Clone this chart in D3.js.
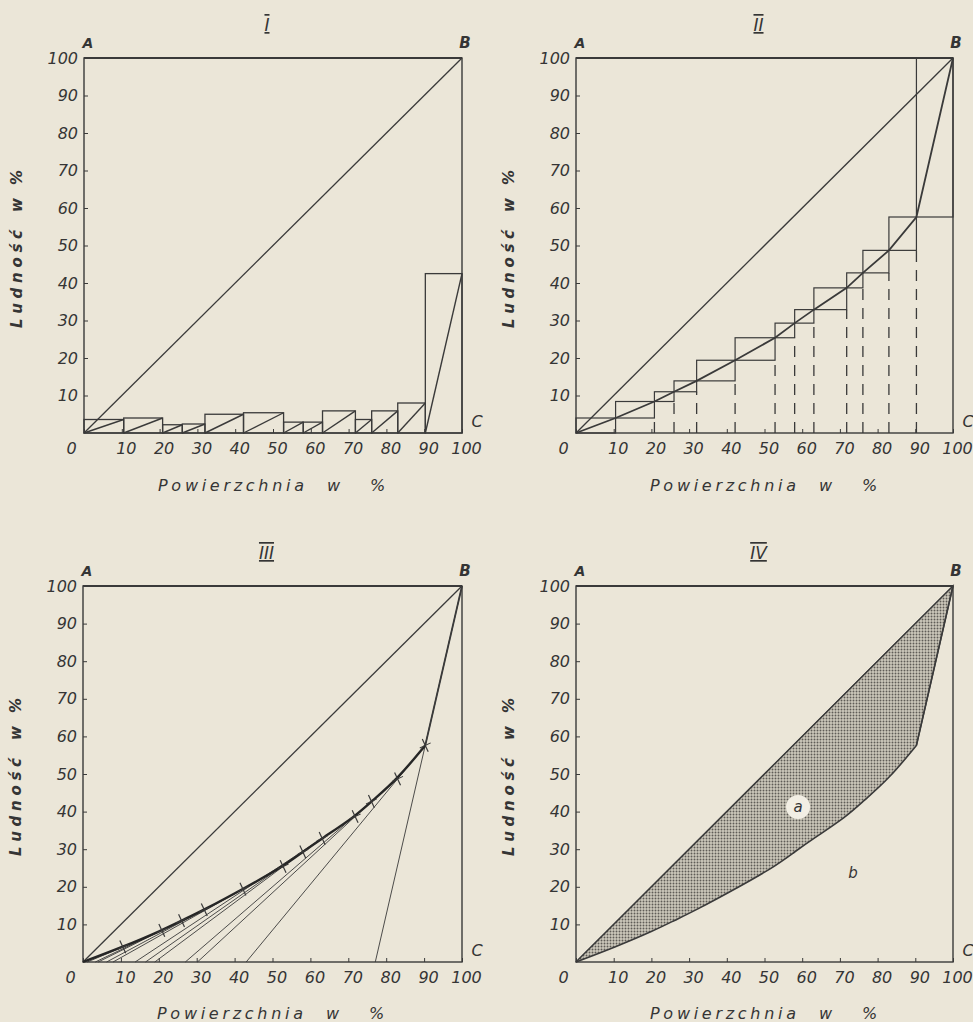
<!DOCTYPE html>
<html>
<head>
<meta charset="utf-8">
<script src="https://cdn.jsdelivr.net/npm/d3@7"></script>
<style>
  body { margin: 0; background: #ebe6d8; }
  svg { display: block; }
  text { font-family: "DejaVu Sans", sans-serif; font-style: italic; fill: #353535; }
</style>
</head>
<body>
<svg id="chart"></svg>
<script>
// --- data ---
const xTicks = [0, 10, 20, 30, 40, 50, 60, 70, 80, 90, 100];
const yTicks = [10, 20, 30, 40, 50, 60, 70, 80, 90, 100];
// cumulative share of area (%) at the class limits
const areaBreaks = [0, 10.5, 20.8, 26, 32, 42.2, 52.8, 58, 63.1, 71.8, 76.1, 83, 90.3, 100];
// population share of each class (%), panel I bar heights
const popShares = [3.6, 4.0, 2.2, 2.4, 5.0, 5.4, 2.9, 2.9, 5.9, 3.6, 5.9, 8.0, 42.5];
// cumulative population (%), panels II-IV
const popCumulative = [0, 4, 8.4, 11, 13.9, 19.4, 25.4, 29.3, 32.9, 38.7, 42.7, 48.7, 57.6, 100];
const panelTitles = ["I", "II", "III", "IV"];
const cornerLabels = ["A", "B", "C"];
const xLabelParts = ["Powierzchnia", "w", "%"];
const yLabelParts = ["Ludność", "w", "%"];
const regionLabels = [{ t: "a", x: 58.9, y: 41.2 }, { t: "b", x: 73.5, y: 23.7 }];

const width = 973, height = 1022;
const ink = "#3a3a3a";

const svg = d3.select("#chart").attr("width", width).attr("height", height);

const defs = svg.append("defs");
const pat = defs.append("pattern").attr("id", "dots")
  .attr("width", 3).attr("height", 3).attr("patternUnits", "userSpaceOnUse");
pat.append("rect").attr("width", 3).attr("height", 3).attr("fill", "#cdc8bb");
pat.append("circle").attr("cx", 1.5).attr("cy", 1.5).attr("r", 0.95).attr("fill", "#5f5c56");

const panels = [
  { left: 84, right: 462, top: 58, bottom: 433 },
  { left: 576, right: 953, top: 58, bottom: 433 },
  { left: 83, right: 462, top: 586, bottom: 962 },
  { left: 576, right: 953, top: 586, bottom: 962 }
];

// hand-smoothed look: B-spline through the cumulative points
const smoothCurve = d3.curveBasis;

function basePanel(p, i) {
  const g = svg.append("g");
  const x = d3.scaleLinear().domain([0, 100]).range([p.left, p.right]);
  const y = d3.scaleLinear().domain([0, 100]).range([p.bottom, p.top]);

  // box
  g.append("rect")
    .attr("x", p.left).attr("y", p.top)
    .attr("width", p.right - p.left).attr("height", p.bottom - p.top)
    .attr("fill", "none").attr("stroke", ink).attr("stroke-width", 1.4);
  g.append("line")
    .attr("x1", p.left).attr("x2", p.right).attr("y1", p.top).attr("y2", p.top)
    .attr("stroke", ink).attr("stroke-width", 2);

  const yAxis = d3.axisLeft(y).tickValues(yTicks).tickSize(-4).tickPadding(6);
  const xAxis = d3.axisBottom(x).tickValues(xTicks).tickSize(-4).tickPadding(10);

  const yG = g.append("g").attr("transform", `translate(${p.left},0)`).call(yAxis);
  const xG = g.append("g").attr("transform", `translate(0,${p.bottom})`).call(xAxis);
  [yG, xG].forEach(a => {
    a.attr("font-family", null).attr("font-size", 16);
    a.select(".domain").remove();
    a.selectAll(".tick line").attr("stroke", ink).attr("stroke-width", 1);
    a.selectAll(".tick text").attr("fill", "#353535");
  });
  xG.selectAll(".tick text").attr("dx", d => d === 0 ? -13 : 4);

  // title numeral
  g.append("text")
    .attr("x", x(50) - 6).attr("y", p.top - 27)
    .attr("text-anchor", "middle").attr("font-size", 17)
    .style("text-decoration", "overline underline")
    .text(panelTitles[i]);

  // corner letters
  g.append("text").attr("x", p.left + 4).attr("y", p.top - 10)
    .attr("text-anchor", "middle").attr("font-size", 14).attr("font-weight", "bold")
    .text(cornerLabels[0]);
  g.append("text").attr("x", p.right + 3).attr("y", p.top - 10)
    .attr("text-anchor", "middle").attr("font-size", 15).attr("font-weight", "bold")
    .text(cornerLabels[1]);
  g.append("text").attr("x", p.right + 15).attr("y", p.bottom - 6)
    .attr("text-anchor", "middle").attr("font-size", 16)
    .text(cornerLabels[2]);

  // x label
  const xl = g.append("text").attr("y", p.top + 433).attr("font-size", 16);
  xl.append("tspan").attr("x", p.left + 74).attr("textLength", 146)
    .attr("lengthAdjust", "spacing").text(xLabelParts[0]);
  xl.append("tspan").attr("x", p.left + 243).text(xLabelParts[1]);
  xl.append("tspan").attr("x", p.left + 286).text(xLabelParts[2]);

  // y label (rotated, read bottom to top)
  const yl = g.append("text").attr("font-size", 15).attr("font-weight", "bold")
    .attr("transform", `translate(${p.left - 62},${p.top + 270}) rotate(-90)`);
  yl.append("tspan").attr("x", 0).attr("textLength", 98)
    .attr("lengthAdjust", "spacing").text(yLabelParts[0]);
  yl.append("tspan").attr("x", 116).text(yLabelParts[1]);
  yl.append("tspan").attr("x", 143).text(yLabelParts[2]);

  // equal distribution line A0 -> B
  g.append("line")
    .attr("x1", x(0)).attr("y1", y(0)).attr("x2", x(100)).attr("y2", y(100))
    .attr("stroke", ink).attr("stroke-width", 1.3);

  return { g, x, y };
}

const pts = areaBreaks.map((a, k) => [a, popCumulative[k]]);

// ---------- panel I : bars of each class ----------
(function () {
  const { g, x, y } = basePanel(panels[0], 0);
  popShares.forEach((h, k) => {
    const x0 = areaBreaks[k], x1 = areaBreaks[k + 1];
    g.append("rect")
      .attr("x", x(x0)).attr("y", y(h))
      .attr("width", x(x1) - x(x0)).attr("height", y(0) - y(h))
      .attr("fill", "none").attr("stroke", ink).attr("stroke-width", 1.3);
    g.append("line")
      .attr("x1", x(x0)).attr("y1", y(0)).attr("x2", x(x1)).attr("y2", y(h))
      .attr("stroke", ink).attr("stroke-width", 1.4);
  });
})();

// ---------- panel II : cumulative steps ----------
(function () {
  const { g, x, y } = basePanel(panels[1], 1);
  for (let k = 0; k < pts.length - 1; k++) {
    const [xa, ya] = pts[k], [xb, yb] = pts[k + 1];
    g.append("rect")
      .attr("x", x(xa)).attr("y", y(yb))
      .attr("width", x(xb) - x(xa)).attr("height", y(ya) - y(yb))
      .attr("fill", "none").attr("stroke", ink).attr("stroke-width", 1.2);
    if (k > 0 && k < pts.length - 2) {
      g.append("line")
        .attr("x1", x(xb)).attr("x2", x(xb)).attr("y1", y(0)).attr("y2", y(ya))
        .attr("stroke", ink).attr("stroke-width", 1.3)
        .attr("stroke-dasharray", "11,8");
    }
  }
  g.append("path").datum(pts)
    .attr("d", d3.line().x(d => x(d[0])).y(d => y(d[1])))
    .attr("fill", "none").attr("stroke", ink).attr("stroke-width", 1.8);
})();

// ---------- panel III : smoothed Lorenz curve ----------
(function () {
  const { g, x, y } = basePanel(panels[2], 2);
  // each step segment extended down to the area axis
  for (let k = 1; k < pts.length - 1; k++) {
    const [xa, ya] = pts[k], [xb, yb] = pts[k + 1];
    const x0 = xa - ya * (xb - xa) / (yb - ya);
    g.append("line")
      .attr("x1", x(x0)).attr("y1", y(0)).attr("x2", x(xb)).attr("y2", y(yb))
      .attr("stroke", ink).attr("stroke-width", 0.9);
  }
  const smooth = pts.slice(0, pts.length - 1);
  g.append("path").datum(smooth)
    .attr("d", d3.line().x(d => x(d[0])).y(d => y(d[1])).curve(smoothCurve))
    .attr("fill", "none").attr("stroke", "#262626").attr("stroke-width", 2.4);
  g.append("line")
    .attr("x1", x(smooth[smooth.length - 1][0])).attr("y1", y(smooth[smooth.length - 1][1]))
    .attr("x2", x(100)).attr("y2", y(100))
    .attr("stroke", ink).attr("stroke-width", 1.8);
  // plus marks
  smooth.slice(1).forEach(d => {
    const cx = x(d[0]), cy = y(d[1]);
    const m = g.append("g").attr("transform", `translate(${cx},${cy}) rotate(-25)`);
    m.append("line").attr("x1", -6).attr("x2", 6).attr("stroke", ink).attr("stroke-width", 1);
    m.append("line").attr("y1", -7).attr("y2", 7).attr("stroke", ink).attr("stroke-width", 1.2);
  });
})();

// ---------- panel IV : concentration area ----------
(function () {
  const { g, x, y } = basePanel(panels[3], 3);
  const smooth = pts.slice(0, pts.length - 1);
  const curve = d3.line().x(d => x(d[0])).y(d => y(d[1])).curve(smoothCurve)(smooth);
  const last = smooth[smooth.length - 1];
  g.append("path")
    .attr("d", curve + `L${x(100)},${y(100)}L${x(0)},${y(0)}Z`)
    .attr("fill", "url(#dots)").attr("stroke", "none");
  g.append("path").attr("d", curve + `L${x(100)},${y(100)}`)
    .attr("fill", "none").attr("stroke", ink).attr("stroke-width", 1.6);
  g.append("path").attr("d", `M${x(0)},${y(0)}L${x(100)},${y(100)}L${x(last[0])},${y(last[1])}`)
    .attr("fill", "none").attr("stroke", ink).attr("stroke-width", 1.3);

  const a = regionLabels[0], b = regionLabels[1];
  g.append("circle").attr("cx", x(a.x)).attr("cy", y(a.y)).attr("r", 12).attr("fill", "#f2eee4");
  g.append("text").attr("x", x(a.x)).attr("y", y(a.y) + 5)
    .attr("text-anchor", "middle").attr("font-size", 15).text(a.t);
  g.append("text").attr("x", x(b.x)).attr("y", y(b.y) + 5)
    .attr("text-anchor", "middle").attr("font-size", 15).text(b.t);
})();
</script>
</body>
</html>
